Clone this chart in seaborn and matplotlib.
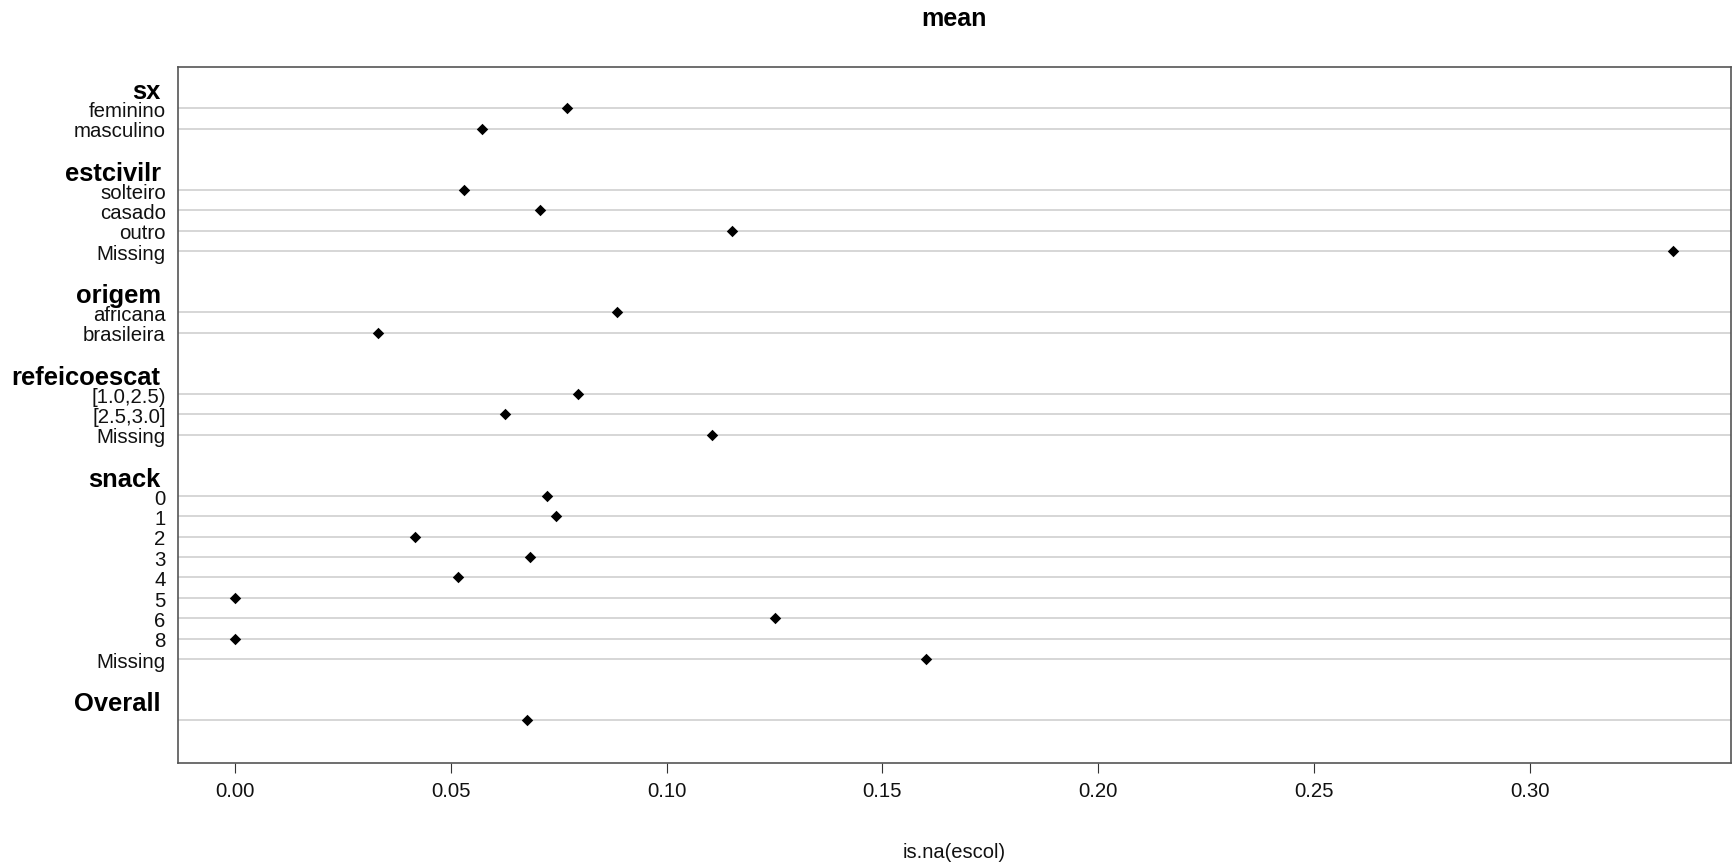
import matplotlib
matplotlib.use("Agg")
import matplotlib.pyplot as plt
import seaborn as sns
import pandas as pd

# ---- data ----
groups = ["sx", "estcivilr", "origem", "refeicoescat", "snack", "Overall"]
sx_labels = ["feminino", "masculino"]
sx_values = [0.0770, 0.0571]
estcivilr_labels = ["solteiro", "casado", "outro", "Missing"]
estcivilr_values = [0.0531, 0.0707, 0.1151, 0.3333]
origem_labels = ["africana", "brasileira"]
origem_values = [0.0885, 0.0332]
refeicoescat_labels = ["[1.0,2.5)", "[2.5,3.0]", "Missing"]
refeicoescat_values = [0.0795, 0.0625, 0.1106]
snack_labels = ["0", "1", "2", "3", "4", "5", "6", "8", "Missing"]
snack_values = [0.0722, 0.0743, 0.0417, 0.0683, 0.0516, 0.0, 0.125, 0.0, 0.16]
overall_labels = [""]
overall_values = [0.0677]
xticks = [0.00, 0.05, 0.10, 0.15, 0.20, 0.25, 0.30]
title = "mean"
xlabel = "is.na(escol)"

group_items = {
    "sx": (sx_labels, sx_values),
    "estcivilr": (estcivilr_labels, estcivilr_values),
    "origem": (origem_labels, origem_values),
    "refeicoescat": (refeicoescat_labels, refeicoescat_values),
    "snack": (snack_labels, snack_values),
    "Overall": (overall_labels, overall_values),
}

# build table with row positions (dotchart layout: header, items, blank)
rows = []
headers = []
r = 0
for g in groups:
    headers.append((g, r))
    r += 1
    labs, vals = group_items[g]
    for lab, v in zip(labs, vals):
        rows.append({"group": g, "label": lab, "value": v, "row": r})
        r += 1
    r += 1
df = pd.DataFrame(rows)

# ---- figure ----
sns.set_style("white")
plt.rcParams["font.family"] = ["Liberation Sans", "DejaVu Sans"]

W, H = 1733, 864
fig = plt.figure(figsize=(W / 100, H / 100), dpi=100)
l, rgt, t, b = 177.7, 1731, 67, 762.7
ax = fig.add_axes([l / W, 1 - b / H, (rgt - l) / W, (b - t) / H])

for y in df["row"]:
    ax.axhline(y, color="#cccccc", lw=1.1, zorder=1)

sns.scatterplot(data=df, x="value", y="row", ax=ax, color="black",
                marker="D", s=34, linewidth=0, zorder=3, legend=False)

ax.set_xlim(-0.01333, 0.34667)
ax.set_ylim(33.08, -1.02)
ax.set_yticks([])
ax.set_xticks(xticks)
ax.set_xticklabels([f"{v:.2f}" for v in xticks], fontsize=14.7, color="#111111")
ax.tick_params(axis="x", direction="out", length=7.2, width=0.8,
               color="#333333", pad=7, bottom=True)
ax.set_xlabel("")
ax.set_ylabel("")
for s in ax.spines.values():
    s.set_color("#555555")
    s.set_linewidth(1.2)
    s.set_visible(True)

ytr = ax.get_yaxis_transform()
item_x = (165.7 - l) / (rgt - l)
head_x = (160.7 - l) / (rgt - l)
for _, rw in df.iterrows():
    ax.text(item_x, rw["row"] + 0.43, rw["label"], transform=ytr,
            ha="right", va="baseline", fontsize=14.7, color="#111111",
            clip_on=False)
for g, hr in headers:
    ax.text(head_x, hr + 0.57, g, transform=ytr, ha="right", va="baseline",
            fontsize=18.4, fontweight="bold", color="black", clip_on=False)

cx = (l + rgt) / 2 / W
fig.text(cx, 1 - 18.8 / H, title, ha="center", va="center",
         fontsize=18, fontweight="bold", color="black")
fig.text(cx, 1 - 852 / H, xlabel, ha="center", va="center",
         fontsize=14.5, color="#111111")

fig.savefig("out.png", dpi=100)
